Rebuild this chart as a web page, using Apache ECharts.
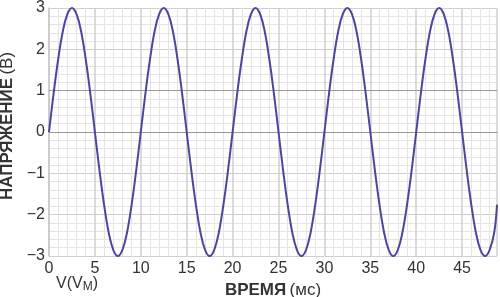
<!DOCTYPE html>
<html><head><meta charset="utf-8">
<script src="https://cdn.jsdelivr.net/npm/echarts@6/dist/echarts.min.js"></script>
<style>html,body{margin:0;padding:0;background:#fff}#c{width:500px;height:297px}</style>
</head><body><div id="c"></div>
<script>
var timeMs = [0,0.5,1,1.5,2,2.5,3,3.5,4,4.5,5,5.5,6,6.5,7,7.5,8,8.5,9,9.5,
10,10.5,11,11.5,12,12.5,13,13.5,14,14.5,15,15.5,16,16.5,17,17.5,18,18.5,19,19.5,
20,20.5,21,21.5,22,22.5,23,23.5,24,24.5,25,25.5,26,26.5,27,27.5,28,28.5,29,29.5,
30,30.5,31,31.5,32,32.5,33,33.5,34,34.5,35,35.5,36,36.5,37,37.5,38,38.5,39,39.5,
40,40.5,41,41.5,42,42.5,43,43.5,44,44.5,45,45.5,46,46.5,47,47.5,48,48.5,48.8];
var voltage = [0,0.93,1.76,2.43,2.85,3,2.85,2.43,1.76,0.93,0,-0.93,-1.76,-2.43,-2.85,-3,-2.85,-2.43,-1.76,-0.93,
0,0.93,1.76,2.43,2.85,3,2.85,2.43,1.76,0.93,0,-0.93,-1.76,-2.43,-2.85,-3,-2.85,-2.43,-1.76,-0.93,
0,0.93,1.76,2.43,2.85,3,2.85,2.43,1.76,0.93,0,-0.93,-1.76,-2.43,-2.85,-3,-2.85,-2.43,-1.76,-0.93,
0,0.93,1.76,2.43,2.85,3,2.85,2.43,1.76,0.93,0,-0.93,-1.76,-2.43,-2.85,-3,-2.85,-2.43,-1.76,-0.93,
0,0.93,1.76,2.43,2.85,3,2.85,2.43,1.76,0.93,0,-0.93,-1.76,-2.43,-2.85,-3,-2.85,-2.43,-1.76,-2.05];
var xTicks = [0,5,10,15,20,25,30,35,40,45];
var yTicks = [-3,-2,-1,0,1,2,3];

var data = timeMs.map(function(t,i){return [t, voltage[i]];});
var font = '"Liberation Sans", Arial, sans-serif';
var chart = echarts.init(document.getElementById('c'), null, {renderer:'canvas'});
chart.setOption({
  animation:false,
  grid:{left:49,right:3,top:8,bottom:41,containLabel:false,outerBoundsMode:'none'},
  xAxis:{type:'value',min:0,max:48.8,interval:5,
    axisLine:{show:true,lineStyle:{color:'#999',width:1}},
    axisTick:{show:false},
    axisLabel:{showMaxLabel:false,color:'#333',fontSize:16,fontFamily:font,margin:5,
      formatter:function(v){return xTicks.indexOf(v)>=0?String(v):'';}},
    splitLine:{show:true,lineStyle:{color:'#cfcfcf',width:1.5}},
    minorTick:{show:false,splitNumber:5},
    minorSplitLine:{show:true,lineStyle:{color:'#e4e4e4',width:1}},
    name:'{b|ВРЕМЯ} {r|(мс)}',nameLocation:'middle',nameGap:20,
    nameTextStyle:{rich:{b:{fontWeight:'bold',fontSize:17,color:'#333',fontFamily:font},r:{fontSize:17,color:'#333',fontFamily:font}}}
  },
  yAxis:{type:'value',min:-3,max:3,interval:1,
    axisLine:{show:true,lineStyle:{color:'#c8c8c8',width:1.5}},
    axisTick:{show:false},
    axisLabel:{color:'#333',fontSize:16,fontFamily:font,margin:4,
      formatter:function(v){return yTicks.indexOf(v)>=0?String(v).replace('-','\u2212'):'';}},
    splitLine:{show:true,lineStyle:{color:'#cfcfcf',width:1.2}},
    minorTick:{show:false,splitNumber:5},
    minorSplitLine:{show:true,lineStyle:{color:'#e4e4e4',width:1}}
  },
  graphic:[
    {type:'text',x:7,y:126,rotation:Math.PI/2,
      style:{text:'{b|НАПРЯЖЕНИЕ} {r|(В)}',align:'center',verticalAlign:'middle',
        rich:{b:{fontWeight:'bold',fontSize:17,fill:'#333',fontFamily:font},r:{fontSize:17,fill:'#333',fontFamily:font}}}},
    {type:'text',left:56,top:276,
      style:{text:'{a|V(V}{s|M}{a|)}',rich:{a:{fontSize:16,fill:'#333',fontFamily:font},s:{fontSize:12,fill:'#333',fontFamily:font,padding:[6,0,0,0]}}}}],
  series:[{type:'line',data:data,smooth:0.4,showSymbol:false,
    lineStyle:{color:'#4b479e',width:2},clip:true,
    markLine:{silent:true,symbol:'none',label:{show:false},lineStyle:{color:'#999',width:1,type:'solid'},
      data:[{yAxis:0},{yAxis:1}],z:1}}]
});
</script></body></html>
